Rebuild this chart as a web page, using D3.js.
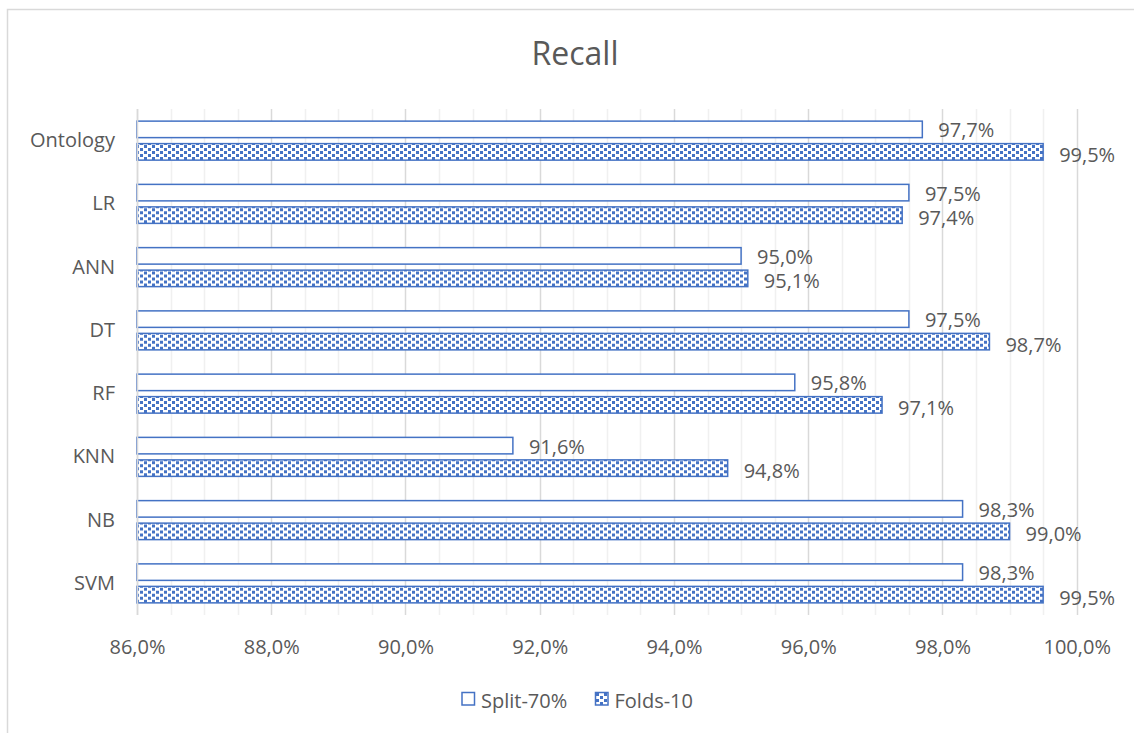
<!DOCTYPE html>
<html>
<head>
<meta charset="utf-8">
<script src="https://cdn.jsdelivr.net/npm/d3@7"></script>
<style>
  html, body { margin: 0; padding: 0; background: #fff; }
  svg { display: block; font-family: "Open Sans", "DejaVu Sans", sans-serif; }
</style>
</head>
<body>
<svg id="chart" width="1134" height="733"></svg>
<script>
const categories = ["Ontology", "LR", "ANN", "DT", "RF", "KNN", "NB", "SVM"];
const seriesNames = ["Split-70%", "Folds-10"];
const split70 = [97.7, 97.5, 95.0, 97.5, 95.8, 91.6, 98.3, 98.3];
const folds10 = [99.5, 97.4, 95.1, 98.7, 97.1, 94.8, 99.0, 99.5];
const tickValues = [86, 88, 90, 92, 94, 96, 98, 100];
const minorTicks = d3.range(86, 100.01, 0.5);

(function () {
const svg = d3.select("#chart");
const blue = "#4472C4";
const textColor = "#595959";
const fmt = v => v.toFixed(1).replace(".", ",") + "%";

// pattern
const defs = svg.append("defs");
const pat = defs.append("pattern").attr("id", "checker")
  .attr("patternUnits", "userSpaceOnUse").attr("width", 8).attr("height", 6);
pat.append("rect").attr("width", 8).attr("height", 6).attr("fill", "#fff");
[[0,0],[4,3]].forEach(([px,py]) =>
  pat.append("rect").attr("x", px).attr("y", py).attr("width", 3).attr("height", 3).attr("fill", blue));

// chart border
svg.append("rect").attr("x", 7.5).attr("y", 9.5).attr("width", 1200).attr("height", 800)
  .attr("fill", "none").attr("stroke", "#d9d9d9").attr("stroke-width", 1.5);

const pLeft = 137, pRight = 1076.7, pTop = 109, pBottom = 615;
const x = d3.scaleLinear().domain([86, 100]).range([pLeft, pRight]);
const y0 = d3.scaleBand().domain(categories).range([pTop, pBottom]).padding(0);
const y1 = d3.scaleBand().domain(seriesNames).range([0, y0.bandwidth()])
  .paddingInner(0.267).paddingOuter(0.539);

// minor gridlines
svg.append("g").selectAll("line").data(minorTicks.filter(t => !tickValues.includes(t)))
  .join("line")
  .attr("x1", d => Math.round(x(d)) + 0.5).attr("x2", d => Math.round(x(d)) + 0.5)
  .attr("y1", pTop).attr("y2", pBottom)
  .attr("stroke", "#f0f0f0").attr("stroke-width", 1.5);
// major gridlines
svg.append("g").selectAll("line").data(tickValues)
  .join("line")
  .attr("x1", d => Math.round(x(d)) + 0.5).attr("x2", d => Math.round(x(d)) + 0.5)
  .attr("y1", pTop).attr("y2", pBottom)
  .attr("stroke", "#d9d9d9").attr("stroke-width", 1.5);

// x axis labels
const xAxis = d3.axisBottom(x).tickValues(tickValues).tickFormat(fmt).tickSize(0).tickPadding(0);
const gx = svg.append("g").attr("transform", `translate(0,${pBottom})`).call(xAxis);
gx.select(".domain").remove();
gx.selectAll("text").attr("font-size", 20).attr("fill", textColor)
  .attr("font-family", "Open Sans").attr("dy", null).attr("y", 39);

// y axis labels
const yAxis = d3.axisLeft(y0).tickSize(0).tickPadding(0);
const gy = svg.append("g").attr("transform", `translate(${pLeft - 22},0)`).call(yAxis);
gy.select(".domain").remove();
gy.selectAll("text").attr("font-size", 20).attr("fill", textColor)
  .attr("font-family", "Open Sans").attr("dy", "0.32em");

// data
const rows = categories.map((c, i) => ({cat: c, vals: [split70[i], folds10[i]]}));
const groups = svg.append("g").selectAll("g").data(rows).join("g")
  .attr("transform", d => `translate(0,${y0(d.cat)})`);
groups.selectAll("rect").data(d => d.vals.map((v, j) => ({s: seriesNames[j], v})))
  .join("rect")
  .attr("x", x(86))
  .attr("y", d => y1(d.s))
  .attr("width", d => x(d.v) - x(86))
  .attr("height", y1.bandwidth())
  .attr("fill", d => d.s === "Split-70%" ? "#fff" : "url(#checker)")
  .attr("stroke", blue).attr("stroke-width", 1.5);
groups.selectAll("text").data(d => d.vals.map((v, j) => ({s: seriesNames[j], v})))
  .join("text")
  .attr("x", d => x(d.v) + 16)
  .attr("y", d => y1(d.s) + y1.bandwidth() / 2 + (d.s === "Split-70%" ? 1 : 3))
  .attr("dy", "0.35em")
  .attr("font-size", 20).attr("fill", textColor)
  .text(d => fmt(d.v));

// y axis line
svg.append("line").attr("x1", pLeft + 0.5).attr("x2", pLeft + 0.5)
  .attr("y1", pTop).attr("y2", pBottom).attr("stroke", "#d9d9d9").attr("stroke-width", 1.5);

// title
svg.append("text").attr("x", 575).attr("y", 65).attr("text-anchor", "middle")
  .attr("font-size", 32).attr("fill", textColor).text("Recall");

// legend
const legend = svg.append("g");
const legendItems = [
  {name: "Split-70%", lx: 462, fill: "#fff"},
  {name: "Folds-10", lx: 595.5, fill: "url(#checker)"}
];
legendItems.forEach(it => {
  legend.append("rect").attr("x", it.lx).attr("y", 692.5).attr("width", 12.5).attr("height", 12.5)
    .attr("fill", it.fill).attr("stroke", blue).attr("stroke-width", 1.5);
  legend.append("text").attr("x", it.lx + 19).attr("y", 708).attr("font-size", 20)
    .attr("fill", textColor).text(it.name);
});
})();
</script>
</body>
</html>
